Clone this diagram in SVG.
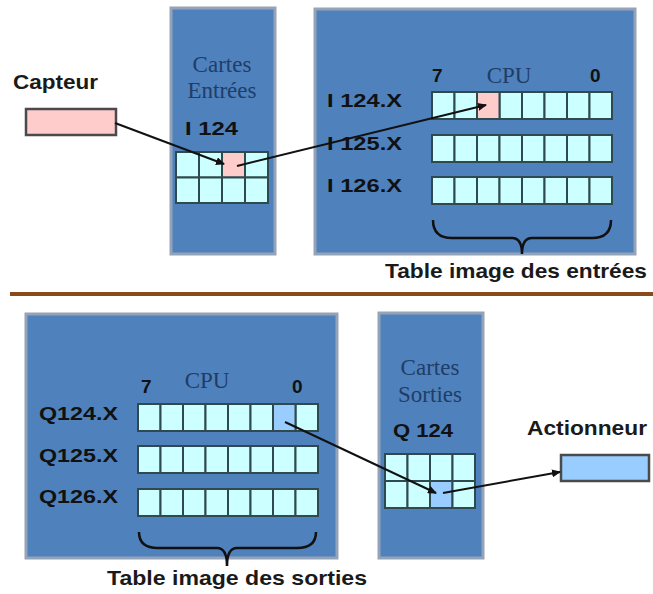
<svg xmlns="http://www.w3.org/2000/svg" width="653" height="594" viewBox="0 0 653 594">
  <style>
    .panel { fill: #4f81bd; stroke: #95a3b8; stroke-width: 3; }
    .cell { fill: #ccffff; stroke: #2f4a4f; stroke-width: 2; }
    .pink { fill: #ffcccc; }
    .blue { fill: #99ccff; }
    .dev { stroke: #4a4a4a; stroke-width: 2.5; }
    .serif { font-family: "Liberation Serif", "Times New Roman", serif; font-size: 23px; fill: #1f3d66; }
    .lbl { font-family: "Liberation Sans", Arial, sans-serif; font-weight: bold; font-size: 19px; fill: #111; }
    .cap { font-family: "Liberation Sans", Arial, sans-serif; font-weight: bold; font-size: 21px; fill: #1a1a1a; }
    .brace { fill: none; stroke: #111; stroke-width: 2.5; }
    .wire { fill: none; stroke: #111; stroke-width: 2; marker-end: url(#arrow); }
  </style>
  <defs>
    <marker id="arrow" markerWidth="9" markerHeight="8" refX="8" refY="4" orient="auto" markerUnits="userSpaceOnUse">
      <path d="M0,0 L9,4 L0,8 Z" fill="#111"/>
    </marker>
    <!-- 8-bit register row, 180 wide, 27 high -->
    <g id="row8">
      <rect class="cell" x="0" y="0" width="22.5" height="27"/>
      <rect class="cell" x="22.5" y="0" width="22.5" height="27"/>
      <rect class="cell" x="45" y="0" width="22.5" height="27"/>
      <rect class="cell" x="67.5" y="0" width="22.5" height="27"/>
      <rect class="cell" x="90" y="0" width="22.5" height="27"/>
      <rect class="cell" x="112.5" y="0" width="22.5" height="27"/>
      <rect class="cell" x="135" y="0" width="22.5" height="27"/>
      <rect class="cell" x="157.5" y="0" width="22.5" height="27"/>
    </g>
  </defs>

  <!-- Input sensor -->
  <g id="capteur">
    <text class="cap" x="13" y="89" textLength="85" lengthAdjust="spacingAndGlyphs">Capteur</text>
    <rect class="dev pink" x="26" y="109" width="90" height="26"/>
  </g>

  <!-- Input card -->
  <g id="cartes-entrees">
    <rect class="panel" x="171" y="8" width="104" height="246"/>
    <text class="serif" x="222" y="72" text-anchor="middle">Cartes</text>
    <text class="serif" x="222" y="98" text-anchor="middle">Entrées</text>
    <text class="lbl" x="185" y="135" textLength="53" lengthAdjust="spacingAndGlyphs">I 124</text>
    <rect class="cell" x="176" y="152" width="23" height="25.5"/>
    <rect class="cell" x="199" y="152" width="23" height="25.5"/>
    <rect class="cell pink" x="222" y="152" width="23" height="25.5"/>
    <rect class="cell" x="245" y="152" width="23" height="25.5"/>
    <rect class="cell" x="176" y="177.5" width="23" height="25.5"/>
    <rect class="cell" x="199" y="177.5" width="23" height="25.5"/>
    <rect class="cell" x="222" y="177.5" width="23" height="25.5"/>
    <rect class="cell" x="245" y="177.5" width="23" height="25.5"/>
  </g>

  <!-- CPU input image table -->
  <g id="cpu-entrees">
    <rect class="panel" x="315" y="9" width="320" height="245"/>
    <text class="lbl" x="432" y="82">7</text>
    <text class="serif" x="509" y="83" text-anchor="middle">CPU</text>
    <text class="lbl" x="590" y="82">0</text>
    <text class="lbl" x="327" y="107" textLength="75" lengthAdjust="spacingAndGlyphs">I 124.X</text>
    <text class="lbl" x="327" y="150" textLength="75" lengthAdjust="spacingAndGlyphs">I 125.X</text>
    <text class="lbl" x="327" y="192" textLength="75" lengthAdjust="spacingAndGlyphs">I 126.X</text>
    <use href="#row8" x="432" y="92"/>
    <rect class="cell pink" x="477" y="92" width="22.5" height="27"/>
    <use href="#row8" x="432" y="135"/>
    <use href="#row8" x="432" y="177"/>
    <path class="brace" d="M433,220 Q433,238 452,238 L512,238 Q522,238 522,254 Q522,238 532,238 L592,238 Q611,238 611,220"/>
  </g>
  <text class="cap" x="385" y="278" textLength="262" lengthAdjust="spacingAndGlyphs">Table image des entrées</text>

  <!-- Section divider -->
  <line x1="10" y1="294" x2="653" y2="294" stroke="#8b4a1c" stroke-width="4"/>

  <!-- CPU output image table -->
  <g id="cpu-sorties">
    <rect class="panel" x="26" y="314" width="311" height="244"/>
    <text class="lbl" x="141" y="393">7</text>
    <text class="serif" x="207" y="388" text-anchor="middle">CPU</text>
    <text class="lbl" x="292" y="393">0</text>
    <text class="lbl" x="39" y="420" textLength="79" lengthAdjust="spacingAndGlyphs">Q124.X</text>
    <text class="lbl" x="39" y="462" textLength="79" lengthAdjust="spacingAndGlyphs">Q125.X</text>
    <text class="lbl" x="39" y="503" textLength="79" lengthAdjust="spacingAndGlyphs">Q126.X</text>
    <use href="#row8" x="138" y="404"/>
    <rect class="cell blue" x="273" y="404" width="22.5" height="27"/>
    <use href="#row8" x="138" y="446"/>
    <use href="#row8" x="138" y="489"/>
    <path class="brace" d="M139,532 Q139,548 158,548 L217,548 Q227,548 227,566 Q227,548 237,548 L297,548 Q316,548 316,532"/>
  </g>
  <text class="cap" x="107" y="585" textLength="260" lengthAdjust="spacingAndGlyphs">Table image des sorties</text>

  <!-- Output card -->
  <g id="cartes-sorties">
    <rect class="panel" x="379" y="313" width="104" height="245"/>
    <text class="serif" x="430" y="375" text-anchor="middle">Cartes</text>
    <text class="serif" x="430" y="402" text-anchor="middle">Sorties</text>
    <text class="lbl" x="393" y="437" textLength="60" lengthAdjust="spacingAndGlyphs">Q 124</text>
    <rect class="cell" x="385" y="454" width="22.5" height="27"/>
    <rect class="cell" x="407.5" y="454" width="22.5" height="27"/>
    <rect class="cell" x="430" y="454" width="22.5" height="27"/>
    <rect class="cell" x="452.5" y="454" width="22.5" height="27"/>
    <rect class="cell" x="385" y="481" width="22.5" height="27"/>
    <rect class="cell" x="407.5" y="481" width="22.5" height="27"/>
    <rect class="cell blue" x="430" y="481" width="22.5" height="27"/>
    <rect class="cell" x="452.5" y="481" width="22.5" height="27"/>
  </g>

  <!-- Actuator -->
  <g id="actionneur">
    <text class="cap" x="527" y="435" textLength="120" lengthAdjust="spacingAndGlyphs">Actionneur</text>
    <rect class="dev blue" x="561" y="455" width="88" height="26"/>
  </g>

  <!-- Signal paths -->
  <g id="connectors">
    <path class="wire" d="M115,123 L224,164"/>
    <path class="wire" d="M237,166 L486,105"/>
    <path class="wire" d="M285,422 L436,493"/>
    <path class="wire" d="M443,493 L560,472"/>
  </g>
</svg>
